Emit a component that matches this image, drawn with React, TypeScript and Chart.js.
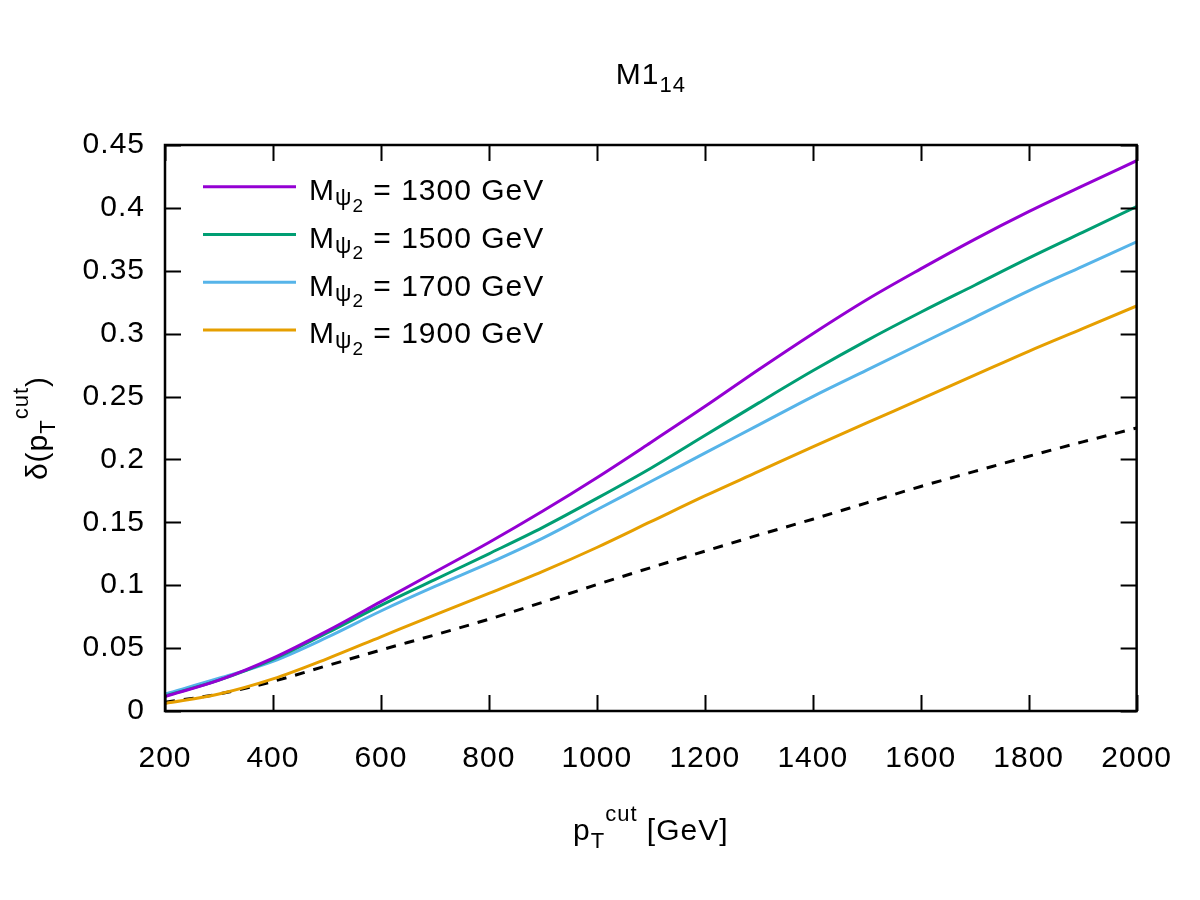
import { useEffect, useRef } from "react";
import { Chart, registerables } from "chart.js";

Chart.register(...registerables);

// p_T^cut values (GeV) at which delta was evaluated
const pTcut = [200, 300, 400, 500, 600, 700, 800, 900, 1000, 1100, 1200, 1300, 1400, 1500, 1600, 1700, 1800, 1900, 2000];

// delta(p_T^cut) for each M_psi2 mass
const delta1300 = [0.0115, 0.0245, 0.042, 0.0635, 0.087, 0.1105, 0.134, 0.159, 0.1855, 0.2135, 0.242, 0.2715, 0.3, 0.327, 0.3515, 0.375, 0.397, 0.4175, 0.4375];
const delta1500 = [0.012, 0.0245, 0.041, 0.062, 0.084, 0.1045, 0.125, 0.146, 0.169, 0.193, 0.219, 0.245, 0.2705, 0.2945, 0.317, 0.3385, 0.36, 0.3805, 0.401];
const delta1700 = [0.0135, 0.026, 0.0395, 0.0585, 0.0795, 0.099, 0.1175, 0.1375, 0.16, 0.1825, 0.205, 0.2275, 0.25, 0.271, 0.292, 0.313, 0.334, 0.3535, 0.373];
const delta1900 = [0.006, 0.0135, 0.0255, 0.0415, 0.059, 0.0765, 0.0935, 0.111, 0.13, 0.1505, 0.171, 0.1905, 0.21, 0.229, 0.248, 0.267, 0.286, 0.304, 0.322];
// reference curve (dashed)
const deltaRef = [0.007, 0.0135, 0.0235, 0.036, 0.0485, 0.0605, 0.073, 0.0865, 0.1005, 0.114, 0.127, 0.14, 0.1525, 0.1655, 0.1785, 0.1905, 0.2025, 0.214, 0.225];

const massLabels = ["1300", "1500", "1700", "1900"];

const xTickValues = [200, 400, 600, 800, 1000, 1200, 1400, 1600, 1800, 2000];
const yTickValues = [0, 0.05, 0.1, 0.15, 0.2, 0.25, 0.3, 0.35, 0.4, 0.45];

const FONT = "'Liberation Sans', Arial, sans-serif";
const BASE = 30;
const SMALL = 22;
const SPACING = "1px";

const COLORS = ["#9400d3", "#009e73", "#56b4e9", "#e69f00"];

type Run = { text: string; size: number; dy: number };

function drawRuns(ctx: CanvasRenderingContext2D, runs: Run[], x: number, y: number, align: "left" | "center") {
  let total = 0;
  const widths = runs.map((r) => {
    ctx.font = `${r.size}px ${FONT}`;
    const w = ctx.measureText(r.text).width;
    total += w;
    return w;
  });
  let cx = align === "center" ? x - total / 2 : x;
  runs.forEach((r, i) => {
    ctx.font = `${r.size}px ${FONT}`;
    ctx.fillText(r.text, cx, y + r.dy);
    cx += widths[i];
  });
}

const decorations = {
  id: "decorations",
  beforeDraw(chart: any) {
    (chart.ctx as any).letterSpacing = SPACING;
  },
  afterDraw(chart: any) {
    const ctx: CanvasRenderingContext2D = chart.ctx;
    const { left, right, top, bottom } = chart.chartArea;
    const xs = chart.scales.x;
    const ys = chart.scales.y;
    ctx.save();
    (ctx as any).letterSpacing = SPACING;
    ctx.strokeStyle = "#000";
    ctx.fillStyle = "#000";

    // inward tick marks on all four sides
    const tl = 16;
    ctx.lineWidth = 2;
    ctx.beginPath();
    xTickValues.forEach((v) => {
      const px = Math.round(xs.getPixelForValue(v)) + 0.5;
      ctx.moveTo(px, bottom);
      ctx.lineTo(px, bottom - tl);
      ctx.moveTo(px, top);
      ctx.lineTo(px, top + tl);
    });
    yTickValues.forEach((v) => {
      const py = Math.round(ys.getPixelForValue(v)) + 0.5;
      ctx.moveTo(left, py);
      ctx.lineTo(left + tl, py);
      ctx.moveTo(right, py);
      ctx.lineTo(right - tl, py);
    });
    ctx.stroke();

    // frame
    ctx.lineWidth = 2.5;
    ctx.strokeRect(left, top, right - left, bottom - top);

    ctx.textBaseline = "alphabetic";
    ctx.textAlign = "left";

    // title
    drawRuns(
      ctx,
      [
        { text: "M1", size: BASE, dy: 0 },
        { text: "14", size: SMALL, dy: 8 },
      ],
      (left + right) / 2,
      84,
      "center"
    );

    // x axis title
    drawRuns(
      ctx,
      [
        { text: "p", size: BASE, dy: 0 },
        { text: "T", size: SMALL, dy: 8 },
        { text: "cut", size: SMALL, dy: -19 },
        { text: " [GeV]", size: BASE, dy: 0 },
      ],
      (left + right) / 2,
      840,
      "center"
    );

    // y axis title
    ctx.save();
    ctx.translate(47, (top + bottom) / 2);
    ctx.rotate(-Math.PI / 2);
    drawRuns(
      ctx,
      [
        { text: "δ(p", size: BASE, dy: 0 },
        { text: "T", size: SMALL, dy: 8 },
        { text: "cut", size: SMALL, dy: -19 },
        { text: ")", size: BASE, dy: 0 },
      ],
      0,
      0,
      "center"
    );
    ctx.restore();

    // legend
    massLabels.forEach((m, i) => {
      const ly = 186.7 + i * 47.8;
      ctx.strokeStyle = COLORS[i];
      ctx.lineWidth = 3;
      ctx.beginPath();
      ctx.moveTo(203, ly);
      ctx.lineTo(296, ly);
      ctx.stroke();
      drawRuns(
        ctx,
        [
          { text: "M", size: BASE, dy: 0 },
          { text: "ψ", size: 23, dy: 5 },
          { text: "2", size: 19, dy: 11.5 },
          { text: ` = ${m} GeV`, size: BASE, dy: 0 },
        ],
        309,
        ly + 13.3,
        "left"
      );
    });

    ctx.restore();
  },
};

export default function App() {
  const canvasRef = useRef<HTMLCanvasElement | null>(null);

  useEffect(() => {
    const canvas = canvasRef.current;
    if (!canvas) return;

    const series = [delta1300, delta1500, delta1700, delta1900];
    const datasets: any[] = series.map((vals, i) => ({
      label: `M_psi2 = ${massLabels[i]} GeV`,
      data: pTcut.map((x, k) => ({ x, y: vals[k] })),
      borderColor: COLORS[i],
      borderWidth: 3,
      pointRadius: 0,
      cubicInterpolationMode: "monotone",
      fill: false,
    }));
    datasets.push({
      label: "reference",
      data: pTcut.map((x, k) => ({ x, y: deltaRef[k] })),
      borderColor: "#000",
      borderWidth: 3,
      borderDash: [10, 9],
      pointRadius: 0,
      cubicInterpolationMode: "monotone",
      fill: false,
    });

    const tickFont = { family: FONT, size: BASE };
    const fmt = (v: number | string) => String(Number(Number(v).toFixed(3)));

    const chart = new Chart(canvas, {
      type: "line",
      data: { datasets },
      plugins: [decorations],
      options: {
        animation: false,
        responsive: false,
        devicePixelRatio: 1,
        layout: { padding: { left: 0, right: 55, top: 145, bottom: 129 } },
        plugins: {
          legend: { display: false },
          title: { display: false },
          tooltip: { enabled: false },
        },
        scales: {
          x: {
            type: "linear",
            min: 200,
            max: 2000,
            afterBuildTicks: (s: any) => {
              s.ticks = xTickValues.map((value) => ({ value }));
            },
            afterFit: (s: any) => {
              s.height = 60;
            },
            grid: { display: false, drawTicks: false },
            border: { display: false },
            ticks: {
              padding: 30,
              font: tickFont,
              color: "#000",
              maxRotation: 0,
              autoSkip: false,
              callback: fmt,
            },
          },
          y: {
            type: "linear",
            min: 0,
            max: 0.45,
            afterBuildTicks: (s: any) => {
              s.ticks = yTickValues.map((value) => ({ value }));
            },
            afterFit: (s: any) => {
              s.width = 165;
            },
            grid: { display: false, drawTicks: false },
            border: { display: false },
            ticks: {
              padding: 20,
              font: tickFont,
              color: "#000",
              autoSkip: false,
              callback: fmt,
            },
          },
        },
      } as any,
    });

    return () => chart.destroy();
  }, []);

  return (
    <div style={{ position: "absolute", left: 0, top: 0, width: 1200, height: 900, background: "#fff" }}>
      <canvas ref={canvasRef} width={1200} height={900} style={{ display: "block" }} />
    </div>
  );
}
